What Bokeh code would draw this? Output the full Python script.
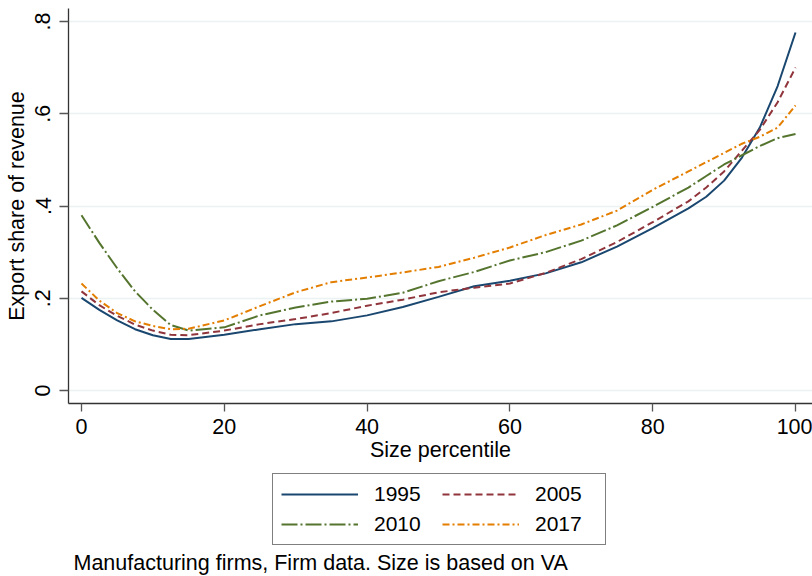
from bokeh.plotting import figure
from bokeh.layouts import column
from bokeh.models import (Range1d, FixedTicker, CustomJSTickFormatter, Legend,
                          LegendItem, Label, ColumnDataSource)
from bokeh.embed import file_html
from bokeh.resources import INLINE

# ---- data ----
pct = [0, 2.5, 5, 7.5, 10, 12.5, 15, 20, 25, 30, 35, 40, 45, 50, 55, 60,
       65, 70, 75, 80, 85, 87.5, 90, 92.5, 95, 97.5, 100]
y1995 = [0.201, 0.175, 0.152, 0.133, 0.120, 0.112, 0.112, 0.121, 0.133, 0.144,
         0.150, 0.163, 0.181, 0.203, 0.226, 0.238, 0.254, 0.278, 0.312, 0.352,
         0.395, 0.420, 0.455, 0.505, 0.570, 0.660, 0.776]
y2005 = [0.215, 0.185, 0.162, 0.143, 0.130, 0.121, 0.120, 0.130, 0.144, 0.155,
         0.168, 0.184, 0.197, 0.213, 0.223, 0.232, 0.255, 0.285, 0.322, 0.365,
         0.410, 0.440, 0.475, 0.520, 0.565, 0.625, 0.700]
y2010 = [0.380, 0.320, 0.265, 0.215, 0.175, 0.142, 0.130, 0.137, 0.163, 0.180,
         0.193, 0.199, 0.212, 0.237, 0.257, 0.282, 0.300, 0.325, 0.358, 0.398,
         0.440, 0.465, 0.490, 0.510, 0.530, 0.547, 0.556]
y2017 = [0.232, 0.195, 0.168, 0.150, 0.140, 0.133, 0.134, 0.152, 0.183, 0.213,
         0.235, 0.245, 0.256, 0.268, 0.288, 0.310, 0.337, 0.360, 0.390, 0.435,
         0.475, 0.495, 0.515, 0.535, 0.550, 0.570, 0.618]
series_names = ["1995", "2005", "2010", "2017"]
x_ticks = [0, 20, 40, 60, 80, 100]
y_ticks = [0, 0.2, 0.4, 0.6, 0.8]
x_title = "Size percentile"
y_title = "Export share of revenue"
note = "Manufacturing firms, Firm data. Size is based on VA"

FONT = "Liberation Sans"
FS = "21.5px"
W = 812
H1 = 466
H2 = 110
LEFT = 68

styles = [
    dict(color="#1a476f", line_dash="solid"),
    dict(color="#90353b", line_dash="7 4"),
    dict(color="#55752f", line_dash="16 3 2 3"),
    dict(color="#e37e00", line_dash="7 3 2 3"),
]

# ---------------- main plot ----------------
p = figure(width=W, height=H1, output_backend="svg", toolbar_location=None,
           x_range=Range1d(-1.82, 102.38), y_range=Range1d(-0.028, 0.828),
           min_border_left=LEFT, min_border_right=0, min_border_top=8,
           min_border_bottom=H1 - 403)
p.outline_line_color = None
p.background_fill_color = "white"
p.border_fill_color = "white"

for ys, st in zip([y1995, y2005, y2010, y2017], styles):
    p.line(pct, ys, line_color=st["color"], line_dash=st["line_dash"],
           line_width=2)

p.xaxis.ticker = FixedTicker(ticks=x_ticks)
p.yaxis.ticker = FixedTicker(ticks=y_ticks)
p.yaxis.formatter = CustomJSTickFormatter(
    code="if (Math.abs(tick) < 1e-9) {return '0';} return tick.toFixed(1).replace(/^0/, '');")
p.yaxis.major_label_orientation = "vertical"
for ax in (p.xaxis, p.yaxis):
    ax.axis_line_color = "#333333"
    ax.axis_line_width = 1.3
    ax.major_tick_line_color = "#555555"
    ax.major_tick_line_width = 1.3
    ax.major_tick_in = 0
    ax.minor_tick_line_color = None
    ax.major_label_text_font = FONT
    ax.major_label_text_font_size = FS
    ax.major_label_text_color = "black"
    ax.axis_label_text_font = FONT
    ax.axis_label_text_font_size = FS
    ax.axis_label_text_font_style = "normal"
    ax.axis_label_text_color = "black"
p.xaxis.major_tick_out = 8
p.yaxis.major_tick_out = 9
p.xaxis.major_label_standoff = 7
p.yaxis.major_label_standoff = 9
p.xaxis.axis_label = x_title
p.yaxis.axis_label = y_title
p.xaxis.axis_label_standoff = 1
p.yaxis.axis_label_standoff = 4

p.xgrid.grid_line_color = None
p.ygrid.ticker = FixedTicker(ticks=y_ticks)
p.ygrid.grid_line_color = "#eaf2f3"
p.ygrid.grid_line_width = 1.5

# ---------------- legend + note panel ----------------
# frame of this panel is aligned with the main frame; data x = page pixel x
q = figure(width=W, height=H2, output_backend="svg", toolbar_location=None,
           x_range=Range1d(LEFT, W), y_range=Range1d(0, H2),
           x_axis_type=None, y_axis_type=None,
           min_border_left=LEFT, min_border_right=0, min_border_top=0,
           min_border_bottom=0)
q.outline_line_color = None
q.background_fill_color = "white"
q.border_fill_color = "white"
q.xgrid.visible = False
q.ygrid.visible = False

items = []
for name, st in zip(series_names, styles):
    src = ColumnDataSource(data=dict(x=[float("nan")], y=[float("nan")]))
    r = q.line("x", "y", source=src, line_color=st["color"],
               line_dash=st["line_dash"], line_width=2)
    items.append(LegendItem(label=name, renderers=[r]))

legend = Legend(items=items, orientation="horizontal", ncols=2,
                location=(272 - LEFT, 31), border_line_color="black",
                border_line_width=1, glyph_width=77, glyph_height=20,
                label_standoff=16, label_width=62, label_height=20,
                spacing=6, padding=8, margin=0,
                label_text_font=FONT, label_text_font_size="21px",
                label_text_color="black",
                background_fill_color="white", background_fill_alpha=1)
q.add_layout(legend, "center")

lab = Label(x=73, y=14, text=note, text_font=FONT, text_font_size=FS,
            text_color="black", text_baseline="middle", text_align="left")
q.add_layout(lab)

layout = column(p, q, spacing=0)
open("out.html", "w").write(file_html(layout, INLINE))
